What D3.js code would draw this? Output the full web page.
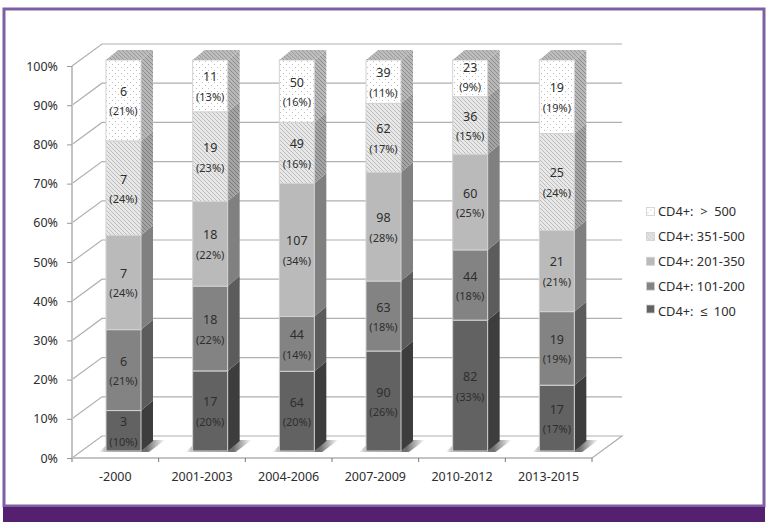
<!DOCTYPE html>
<html><head><meta charset="utf-8">
<script src="https://cdn.jsdelivr.net/npm/d3@7"></script>
<style>html,body{margin:0;background:#fff}svg{display:block}text{font-family:"Noto Sans",sans-serif;fill:#2e2e2e}</style>
</head><body><svg id="c" width="774" height="528"></svg>
<script>
const periods=["-2000","2001-2003","2004-2006","2007-2009","2010-2012","2013-2015"];
const seriesNames=["CD4+:\u00a0 ≤\u00a0 100","CD4+: 101-200","CD4+: 201-350","CD4+: 351-500","CD4+:\u00a0 >\u00a0 500"];
const le100=[3,17,64,90,82,17];
const c101=[6,18,44,63,44,19];
const c201=[7,18,107,98,60,21];
const c351=[7,19,49,62,36,25];
const gt500=[6,11,50,39,23,19];
const pctLe100=[10,20,20,26,33,17];
const pct101=[21,22,14,18,18,19];
const pct201=[24,22,34,28,25,21];
const pct351=[24,23,16,17,15,24];
const pctGt500=[21,13,16,11,9,19];
const yTicks=[0,10,20,30,40,50,60,70,80,90,100];

const counts=[le100,c101,c201,c351,gt500], pcts=[pctLe100,pct101,pct201,pct351,pctGt500];
const svg=d3.select("#c");
const defs=svg.append("defs");
function pat(id,bg,draw,size){
  const p=defs.append("pattern").attr("id",id).attr("patternUnits","userSpaceOnUse").attr("width",size).attr("height",size);
  p.append("rect").attr("width",size).attr("height",size).attr("fill",bg);draw(p);
}
const hatch=(fg)=>p=>{p.append("path").attr("d","M-1,-1L5,5M-1,3L1,5M3,-1L5,1").attr("stroke",fg).attr("stroke-width",1);};
pat("dots","#fff",p=>{[[1,1],[4,4]].forEach(c=>p.append("rect").attr("x",c[0]).attr("y",c[1]).attr("width",1).attr("height",1).attr("fill","#bdbdbd"));},6);
pat("hatchFront","#e8e8e8",hatch("#bcbcbc"),4);
pat("hatchSide","#b8b8b8",hatch("#8c8c8c"),4);
pat("hatchSideDark","#a4a4a4",hatch("#7c7c7c"),4);
pat("hatchTop","#bcbcbc",hatch("#9c9c9c"),4);
const sh=defs.append("linearGradient").attr("id","shadow").attr("x1",0).attr("x2",1).attr("y1",0).attr("y2",0);
sh.append("stop").attr("offset","0").attr("stop-color","#fff");
sh.append("stop").attr("offset",".15").attr("stop-color","#999");
sh.append("stop").attr("offset",".72").attr("stop-color","#6e6e6e");
sh.append("stop").attr("offset","1").attr("stop-color","#fff");

// frame
svg.append("rect").attr("x",4).attr("y",9).attr("width",760).attr("height",497).attr("fill","#fff").attr("stroke","#7f5fa3").attr("stroke-width",3);
svg.append("rect").attr("x",3).attr("y",507).attr("width",762).attr("height",15).attr("fill","#54206f");

const x=d3.scaleBand().domain(periods).range([72,592]);
const yAxis=d3.scaleLinear().domain([0,100]).range([458,66]);
const yBar=d3.scaleLinear().domain([0,1]).range([451,60]);
const dx=30,dy=-22,barOff=34,barW=35,sx=12,sy=-10;
const grid="#b0b0b0";

// walls
const g=svg.append("g");
g.selectAll(".wall").data(yTicks.slice(1)).join("path").attr("fill","none").attr("stroke",grid).attr("stroke-width",1.2)
 .attr("d",d=>`M72,${yAxis(d)}L${72+dx},${yAxis(d)+dy}H622`);
g.append("path").attr("fill","none").attr("stroke",grid).attr("stroke-width",1.2)
 .attr("d",`M72,458L${72+dx},${458+dy}H622L592,458`);
g.append("path").attr("fill","none").attr("stroke","#c4c4c4").attr("stroke-width",2).attr("d","M72,66V458H592");

// axes
const ax=svg.append("g").attr("transform","translate(72,0)").call(d3.axisLeft(yAxis).tickValues(yTicks).tickFormat(d=>d+"%").tickSize(5).tickPadding(9));
ax.select(".domain").remove();
ax.selectAll("line").attr("stroke","#999");
ax.selectAll("text").attr("font-size",12.5).attr("font-family",'"Noto Sans",sans-serif').attr("fill","#2e2e2e");
const bx=svg.append("g").attr("transform","translate(0,458)");
bx.selectAll("line").data(d3.range(periods.length+1)).join("line")
 .attr("x1",i=>72+i*x.bandwidth()).attr("x2",i=>72+i*x.bandwidth()).attr("y1",0).attr("y2",4).attr("stroke","#777");
bx.selectAll("text").data(periods).join("text").attr("x",d=>x(d)+x.bandwidth()/2).attr("y",23).attr("text-anchor","middle").attr("font-size",12.5).text(d=>d);

// stack
const table=periods.map((p,i)=>{const o={p};counts.forEach((c,k)=>o[k]=c[i]);return o;});
const stacked=d3.stack().keys(d3.range(5)).offset(d3.stackOffsetExpand)(table);
const fronts=["#626262","#838383","#bababa","url(#hatchFront)","url(#dots)"];
const sides=["#3d3d3d","#5c5c5c","#808080","url(#hatchSideDark)","url(#hatchSide)"];
const legendFill=["#626262","#838383","#bababa","url(#hatchFront)","url(#dots)"];

// floor shadows
svg.append("g").selectAll("path").data(periods).join("path").attr("fill","url(#shadow)")
 .attr("d",d=>{const a=x(d)+barOff;return `M${a-7},452L${a+6},440H${a+barW+sx+12}L${a+barW+8},452Z`;});

const bars=svg.append("g");
periods.forEach((p,i)=>{
  const a=x(p)+barOff;
  stacked.forEach((s,k)=>{
    const y0=yBar(s[i][0]),y1=yBar(s[i][1]);
    bars.append("path").attr("fill",sides[k]).attr("d",`M${a+barW},${y0}L${a+barW+sx},${y0+sy}V${y1+sy}L${a+barW},${y1}Z`);
    bars.append("rect").attr("x",a).attr("y",y1).attr("width",barW).attr("height",y0-y1).attr("fill",fronts[k]).attr("stroke","#d2d2d2").attr("stroke-width",1);
  });
  const top=yBar(1);
  bars.append("path").attr("fill","url(#hatchTop)").attr("d",`M${a},${top}L${a+sx},${top+sy}H${a+barW+sx}L${a+barW},${top}Z`);
  stacked.forEach((s,k)=>{
    const mid=(yBar(s[i][0])+yBar(s[i][1]))/2;
    const off=(s[i][1]-s[i][0])<0.1?-1:1;
    bars.append("text").attr("x",a+barW/2).attr("y",mid-10+off+4.5).attr("text-anchor","middle").attr("font-size",12.5).text(counts[k][i]);
    bars.append("text").attr("x",a+barW/2).attr("y",mid+10+off+4).attr("text-anchor","middle").attr("font-size",11).text(`(${pcts[k][i]}%)`);
  });
});

// legend
const ly=d3.scalePoint().domain(d3.range(5)).range([311,211.5]);
const lg=svg.append("g").selectAll("g").data(d3.range(5)).join("g").attr("transform",k=>`translate(646.5,${ly(k)})`);
lg.append("rect").attr("y",k=>k===0?-6:-4).attr("width",8).attr("height",8).attr("fill",k=>legendFill[k]).attr("stroke","#cfcfcf").attr("stroke-width",.8);
lg.append("text").attr("x",11.5).attr("y",4.5).attr("font-size",12.8).text(k=>seriesNames[k]);
</script></body></html>
